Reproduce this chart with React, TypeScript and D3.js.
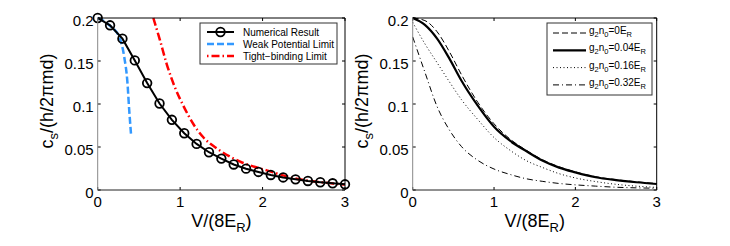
import React from "react";
import * as d3 from "d3";

// values
const numX = [0, 0.15, 0.3, 0.45, 0.6, 0.75, 0.9, 1.05, 1.2, 1.35, 1.5, 1.65, 1.8, 1.95, 2.1, 2.25, 2.4, 2.55, 2.7, 2.85, 3.0];
const numY = [0.2, 0.1915, 0.176, 0.1507, 0.1243, 0.1006, 0.0816, 0.066, 0.0536, 0.0439, 0.0365, 0.0297, 0.0248, 0.0210, 0.0175, 0.0146, 0.0124, 0.0105, 0.009, 0.0078, 0.0066];

const weakX = [0, 0.149, 0.27, 0.323, 0.359, 0.383, 0.404];
const weakY = [0.2, 0.191, 0.176, 0.154, 0.127, 0.092, 0.065];

const tightX = [0.675, 0.756, 0.837, 0.938, 1.039, 1.16, 1.281, 1.45, 1.6, 1.75, 1.9, 2.05, 2.25, 2.45, 2.65, 2.85, 3.0];
const tightY = [0.2, 0.174, 0.1465, 0.119, 0.098, 0.0767, 0.0613, 0.048, 0.039, 0.032, 0.027, 0.0228, 0.017, 0.0124, 0.0097, 0.0075, 0.0064];

const gX = [0, 0.15, 0.3, 0.45, 0.6, 0.8, 1.0, 1.2, 1.4, 1.6, 1.8, 2.0, 2.25, 2.5, 2.75, 3.0];
const g0Y = [0.2, 0.197, 0.184, 0.161, 0.134, 0.102, 0.077, 0.059, 0.046, 0.035, 0.027, 0.021, 0.0155, 0.012, 0.0095, 0.0075];
const g004Y = [0.2, 0.192, 0.176, 0.153, 0.127, 0.098, 0.0735, 0.057, 0.045, 0.034, 0.026, 0.0205, 0.0148, 0.0115, 0.009, 0.007];
const g016Y = [0.195, 0.17, 0.148, 0.126, 0.105, 0.082, 0.061, 0.046, 0.034, 0.026, 0.019, 0.014, 0.0098, 0.0066, 0.0045, 0.003];
const g032Y = [0.178, 0.137, 0.097, 0.07, 0.0505, 0.0345, 0.0244, 0.018, 0.013, 0.01, 0.0076, 0.006, 0.0045, 0.0032, 0.0025, 0.002];

const xTicks = [0, 1, 2, 3];
const yTicks = [0, 0.05, 0.1, 0.15, 0.2];
const yTickLabels = ["0", "0.05", "0.1", "0.15", "0.2"];

const leftLegend = ["Numerical Result", "Weak Potential Limit", "Tight\u2212binding Limit"];
const rightLegend = ["0", "0.04", "0.16", "0.32"];

const font = "'Liberation Sans', Arial, Helvetica, sans-serif";

const top = 18;
const bottom = 190;

const yScale = d3.scaleLinear().domain([0, 0.2]).range([bottom, top]);

const toPts = (xs: number[], ys: number[]) => xs.map((x, i) => [x, ys[i]] as [number, number]);

function Frame({ x, yLabelX }: { x: d3.ScaleLinear<number, number>; yLabelX: number }) {
  const [x0, x1] = x.range();
  const mid = (x0 + x1) / 2;
  return (
    <g>
      {/* ticks on all sides, inward */}
      {xTicks.map((t) => (
        <g key={"xt" + t}>
          <line x1={x(t)} x2={x(t)} y1={bottom} y2={bottom - 3} stroke="#000" />
          <line x1={x(t)} x2={x(t)} y1={top} y2={top + 3} stroke="#000" />
          <text x={x(t)} y={207} textAnchor="middle" fontSize={15} fontFamily={font}>{t}</text>
        </g>
      ))}
      {yTicks.map((t, i) => (
        <g key={"yt" + t}>
          <line x1={x0} x2={x0 + 3} y1={yScale(t)} y2={yScale(t)} stroke="#000" />
          <line x1={x1} x2={x1 - 3} y1={yScale(t)} y2={yScale(t)} stroke="#000" />
          <text x={x0 - 4} y={yScale(t) + 8} textAnchor="end" fontSize={15} fontFamily={font}>{yTickLabels[i]}</text>
        </g>
      ))}
      <line x1={x0} x2={x1} y1={top} y2={top} stroke="#000" />
      <line x1={x1} x2={x1} y1={top} y2={bottom} stroke="#000" />
      <line x1={x0} x2={x1} y1={bottom} y2={bottom} stroke="#222" />
      <line x1={x0} x2={x0} y1={top} y2={bottom} stroke="#888" />
      {/* x label */}
      <text x={mid} y={227} textAnchor="middle" fontSize={18} fontFamily={font}>
        V/(8E<tspan fontSize={13} dy={5}>R</tspan><tspan dy={-5}>)</tspan>
      </text>
      {/* y label */}
      <text transform={`translate(${yLabelX},101) rotate(-90)`} textAnchor="middle" fontSize={18} fontFamily={font}>
        c<tspan fontSize={13} dy={5}>s</tspan><tspan dy={-5}>/(h/2πmd)</tspan>
      </text>
    </g>
  );
}

export default function App() {
  const xL = d3.scaleLinear().domain([0, 3]).range([97.7, 345]);
  const xR = d3.scaleLinear().domain([0, 3]).range([412.7, 656.7]);

  const lineL = d3.line<[number, number]>().x((d) => xL(d[0])).y((d) => yScale(d[1]));
  const smoothL = d3.line<[number, number]>().x((d) => xL(d[0])).y((d) => yScale(d[1])).curve(d3.curveMonotoneX);
  const smoothR = d3.line<[number, number]>().x((d) => xR(d[0])).y((d) => yScale(d[1])).curve(d3.curveMonotoneX);

  const numPts = toPts(numX, numY);
  const rightSeries = [
    { ys: g0Y, dash: "6,3", w: 1 },
    { ys: g004Y, dash: "none", w: 2.2 },
    { ys: g016Y, dash: "1,2.5", w: 1 },
    { ys: g032Y, dash: "6,3,1,3", w: 1 },
  ];

  return (
    <svg width={730} height={246} style={{ position: "absolute", left: 0, top: 0, background: "#fff" }}>
      <rect width={730} height={246} fill="#fff" />

      {/* ---------- left panel ---------- */}
      <path d={smoothL(toPts(weakX, weakY)) || ""} fill="none" stroke="#3399ff" strokeWidth={2.5} strokeDasharray="7,3" />
      <path d={smoothL(toPts(tightX, tightY)) || ""} fill="none" stroke="#ff0000" strokeWidth={2.5} strokeDasharray="8,3,1.5,3" />
      <path d={lineL(numPts) || ""} fill="none" stroke="#000" strokeWidth={2} />
      {numPts.map((d, i) => (
        <circle key={i} cx={xL(d[0])} cy={yScale(d[1])} r={4.3} fill="none" stroke="#000" strokeWidth={1.8} />
      ))}
      <Frame x={xL} yLabelX={53} />

      {/* left legend */}
      <g fontFamily={font} fontSize={10}>
        <rect x={200} y={23} width={137} height={41} fill="#fff" stroke="#333" />
        <line x1={207} x2={234} y1={32} y2={32} stroke="#000" strokeWidth={2} />
        <circle cx={220.5} cy={32} r={4.3} fill="none" stroke="#000" strokeWidth={1.8} />
        <line x1={207} x2={234} y1={44} y2={44} stroke="#3399ff" strokeWidth={2.5} strokeDasharray="7,3" />
        <line x1={207} x2={234} y1={56} y2={56} stroke="#ff0000" strokeWidth={2.5} strokeDasharray="1.5,3,8,3" />
        {leftLegend.map((t, i) => (
          <text key={t} x={243} y={35.5 + i * 12}>{t}</text>
        ))}
      </g>

      {/* ---------- right panel ---------- */}
      {rightSeries.map((s, i) => (
        <path key={i} d={smoothR(toPts(gX, s.ys)) || ""} fill="none" stroke="#000" strokeWidth={s.w} strokeDasharray={s.dash} />
      ))}
      <Frame x={xR} yLabelX={368} />

      {/* right legend */}
      <g fontFamily={font} fontSize={10}>
        <rect x={547} y={23} width={105} height={72} fill="#fff" stroke="#333" />
        {rightLegend.map((v, i) => (
          <g key={v}>
            <line x1={553} x2={586} y1={33 + i * 17.3} y2={33 + i * 17.3} stroke="#000"
              strokeWidth={rightSeries[i].w} strokeDasharray={rightSeries[i].dash} />
            <text x={589} y={34 + i * 17.3}>
              g<tspan fontSize={7.5} dy={3}>2</tspan><tspan dy={-3}>n</tspan><tspan fontSize={7.5} dy={3}>0</tspan>
              <tspan dy={-3}>={v}E</tspan><tspan fontSize={7.5} dy={3}>R</tspan>
            </text>
          </g>
        ))}
      </g>
    </svg>
  );
}
